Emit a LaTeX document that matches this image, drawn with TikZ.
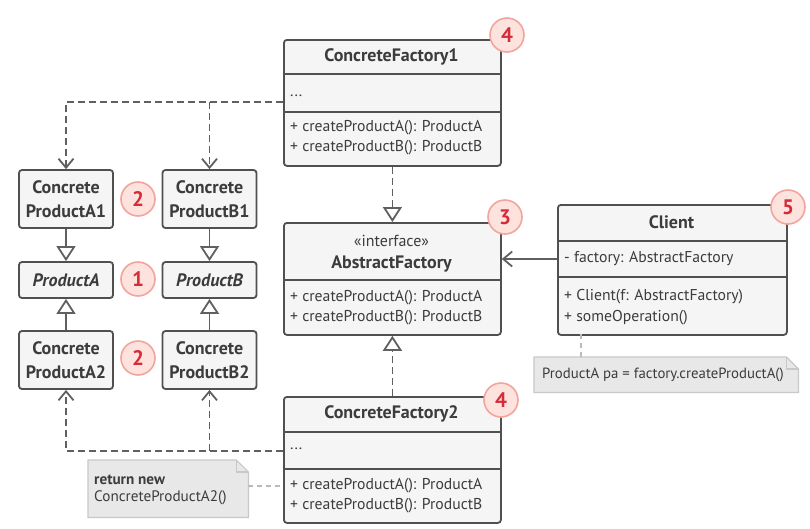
\documentclass[tikz,border=0pt]{standalone}
\usepackage{fontspec}
\setmainfont{PT Sans}
\usetikzlibrary{arrows.meta}
\definecolor{boxc}{HTML}{505050}
\definecolor{boxf}{HTML}{F5F5F5}
\definecolor{txt}{HTML}{3C3C3C}
\definecolor{linec}{HTML}{606060}
\definecolor{badgef}{HTML}{FDE2DE}
\definecolor{badged}{HTML}{F2A59C}
\definecolor{badget}{HTML}{D42C38}
\definecolor{notef}{HTML}{E8E8E8}
\definecolor{noted}{HTML}{C8C8C8}
\definecolor{notel}{HTML}{BBBBBB}
\begin{document}
\begin{tikzpicture}[x=1pt,y=-1pt,
  cls/.style={draw=boxc, fill=boxf, line width=1.8pt, rounded corners=3pt, inner sep=0pt, anchor=north west},
  div/.style={draw=boxc, line width=1.8pt},
  title/.style={font=\bfseries\fontsize{18}{20}\selectfont, text=txt, inner sep=0pt},
  mem/.style={font=\fontsize{15.7}{18}\selectfont, text=txt, anchor=west, inner sep=0pt},
  prod/.style={draw=boxc, fill=boxf, line width=1.8pt, rounded corners=3pt, inner sep=0pt, minimum width=94pt, align=center, font=\bfseries\fontsize{18}{24}\selectfont, text=txt},
  dep/.style={draw=linec, line width=1.8pt, dash pattern=on 7pt off 4pt, -{Straight Barb[length=9pt,width=15pt]}},
  assoc/.style={draw=linec, line width=1.8pt, -{Straight Barb[length=9pt,width=15pt]}},
  inh/.style={draw=linec, line width=1.8pt, -{Triangle[length=15pt,width=19pt,fill=white]}},
  dinh/.style={inh, dash pattern=on 7pt off 4pt},
  badge/.style={circle, minimum size=34pt, inner sep=0pt, fill=badgef, draw=badged, line width=1.6pt, text=badget, font=\bfseries\fontsize{21}{21}\selectfont},
  notebox/.style={inner sep=0pt, anchor=north west},
  notedraw/.style={fill=notef, draw=noted, line width=1.2pt},
  notel/.style={draw=notel, line width=1.2pt, dash pattern=on 5pt off 4pt},
  notet/.style={font=\fontsize{14.8}{17}\selectfont, text=txt, anchor=west, inner sep=0pt}
]
\useasboundingbox (0,0) rectangle (810,528);

% ---------- ConcreteFactory1
\node[cls, minimum width=217pt, minimum height=126pt] (cf1) at (283,39) {};
\draw[div] (283,74) -- (500,74);
\draw[div] (283,112) -- (500,112);
\node[title] (cf1t) at (391.5,57) {ConcreteFactory1};
\node[mem] (cf1d) at (290,96) {...};
\node[mem] (cf1a) at (290,128) {+ createProductA(): ProductA};
\node[mem] (cf1b) at (290,148) {+ createProductB(): ProductB};

% ---------- AbstractFactory
\node[cls, minimum width=217pt, minimum height=112pt] (af) at (283,222) {};
\draw[div] (283,280) -- (500,280);
\node[font=\fontsize{16}{18}\selectfont, text=txt, inner sep=0pt] (aft0) at (391.5,241) {«interface»};
\node[title] (aft) at (391.5,264) {AbstractFactory};
\node[mem] (afa) at (290,298) {+ createProductA(): ProductA};
\node[mem] (afb) at (290,318) {+ createProductB(): ProductB};

% ---------- ConcreteFactory2
\node[cls, minimum width=217pt, minimum height=126pt] (cf2) at (283,396) {};
\draw[div] (283,432) -- (500,432);
\draw[div] (283,469) -- (500,469);
\node[title] (cf2t) at (391.5,414) {ConcreteFactory2};
\node[mem] (cf2d) at (290,449) {...};
\node[mem] (cf2a) at (290,486) {+ createProductA(): ProductA};
\node[mem] (cf2b) at (290,506) {+ createProductB(): ProductB};

% ---------- Client
\node[cls, minimum width=229pt, minimum height=130pt] (cl) at (557,204) {};
\draw[div] (557,241) -- (786,241);
\draw[div] (557,277) -- (786,277);
\node[title] (clt) at (671.5,222) {Client};
\node[mem] (clf) at (564,259) {- factory: AbstractFactory};
\node[mem] (clm1) at (564,297) {+ Client(f: AbstractFactory)};
\node[mem] (clm2) at (564,318) {+ someOperation()};

% ---------- Products
\node[prod, minimum height=58pt] (cpa1) at (66,199) {Concrete\\ProductA1};
\node[prod, minimum height=58pt] (cpb1) at (209.5,199) {Concrete\\ProductB1};
\node[prod, minimum height=36pt, font=\bfseries\itshape\fontsize{18}{20}\selectfont] (pa) at (66,280) {ProductA};
\node[prod, minimum height=36pt, font=\bfseries\itshape\fontsize{18}{20}\selectfont] (pb) at (209.5,280) {ProductB};
\node[prod, minimum height=58pt] (cpa2) at (66,360) {Concrete\\ProductA2};
\node[prod, minimum height=58pt] (cpb2) at (209.5,360) {Concrete\\ProductB2};

% ---------- Notes
\node[notebox, minimum width=264pt, minimum height=35pt] (n1) at (534,357) {};
\draw[notedraw] (n1.north west) -- ([xshift=-12pt]n1.north east) -- ([yshift=-12pt]n1.north east) -- (n1.south east) -- (n1.south west) -- cycle;
\draw[draw=noted, line width=1.2pt] ([xshift=-12pt]n1.north east) -- ([xshift=-12pt,yshift=-12pt]n1.north east) -- ([yshift=-12pt]n1.north east);
\node[notet] (n1t) at (542,375) {ProductA pa = factory.createProductA()};

\node[notebox, minimum width=160pt, minimum height=57pt] (n2) at (88,460) {};
\draw[notedraw] (n2.north west) -- ([xshift=-12pt]n2.north east) -- ([yshift=-12pt]n2.north east) -- (n2.south east) -- (n2.south west) -- cycle;
\draw[draw=noted, line width=1.2pt] ([xshift=-12pt]n2.north east) -- ([xshift=-12pt,yshift=-12pt]n2.north east) -- ([yshift=-12pt]n2.north east);
\node[notet, font=\bfseries\fontsize{15.2}{17}\selectfont] (n2a) at (94,480) {return new};
\node[notet, font=\fontsize{15.2}{17}\selectfont] (n2b) at (94,498) {ConcreteProductA2()};

% ---------- Connectors
\draw[inh] (cpa1) -- (pa);
\draw[inh] (cpb1) -- (pb);
\draw[inh] (cpa2) -- (pa);
\draw[inh] (cpb2) -- (pb);
\draw[dinh] (cf1) -- (af);
\draw[dinh] (cf2) -- (af);

\coordinate (cf1dots) at (283,102);
\coordinate (j1) at (cpb1.north |- cf1dots);
\draw[dep] (cf1dots) -| (cpa1.north);
\draw[dep] (j1) -- (cpb1.north);

\coordinate (cf2dots) at (283,451);
\coordinate (j2) at (cpb2.south |- cf2dots);
\draw[dep] (cf2dots) -| (cpa2.south);
\draw[dep] (j2) -- (cpb2.south);

\coordinate (clfa) at (557,259);
\draw[assoc] (clfa) -- (af.east |- clfa);

\coordinate (cln) at (581,334);
\draw[notel] (cln) -- (cln |- n1.north);
\draw[notel] (n2.east |- cf2a) -- (cf2.west |- cf2a);

% ---------- Badges
\node[badge] (b4a) at (507,35) {4};
\node[badge] (b3) at (505,217) {3};
\node[badge] (b5) at (788,207) {5};
\node[badge] (b4b) at (501,400) {4};
\node[badge] (b2a) at (138,199) {2};
\node[badge] (b1) at (138,279) {1};
\node[badge] (b2b) at (138,358) {2};
\end{tikzpicture}
\end{document}
